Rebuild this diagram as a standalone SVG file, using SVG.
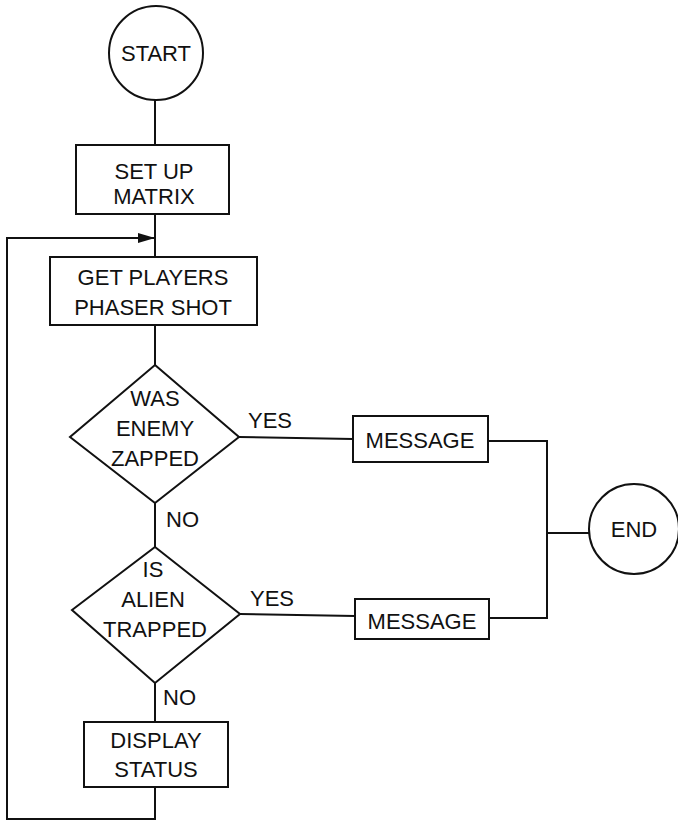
<svg xmlns="http://www.w3.org/2000/svg" width="678" height="822" viewBox="0 0 678 822">
<defs>
<style>
.s{fill:#fff;stroke:#111;stroke-width:2}
.c{fill:none;stroke:#111;stroke-width:2}
text{font-family:"Liberation Sans",Arial,sans-serif;font-size:22px;fill:#111;text-anchor:middle}
.l{text-anchor:start}
</style>
<marker id="ah" markerWidth="18" markerHeight="12" refX="17" refY="6" orient="auto" markerUnits="userSpaceOnUse">
<path d="M0,1 L17,6 L0,11 Z" fill="#111"/>
</marker>
</defs>
<rect width="678" height="822" fill="#fff"/>
<g id="connectors">
<line class="c" x1="155" y1="100" x2="155" y2="145"/>
<line class="c" x1="155" y1="214" x2="155" y2="257"/>
<polyline class="c" points="155,787 155,819 7,819 7,238 155,238" marker-end="url(#ah)"/>
<line class="c" x1="155" y1="325" x2="155" y2="365"/>
<line class="c" x1="155" y1="503" x2="155" y2="547"/>
<line class="c" x1="155" y1="683" x2="155" y2="722"/>
<line class="c" x1="239" y1="437" x2="353" y2="439"/>
<line class="c" x1="240" y1="614" x2="355" y2="616"/>
<polyline class="c" points="488,441 547,441 547,618 489,618"/>
<line class="c" x1="547" y1="533" x2="591" y2="533"/>
<text class="l" x="248" y="428">YES</text>
<text class="l" x="166" y="527">NO</text>
<text class="l" x="250" y="606">YES</text>
<text class="l" x="163" y="705">NO</text>
</g>
<g id="start">
<circle class="s" cx="156" cy="53" r="47"/>
<text x="156" y="61">START</text>
</g>
<g id="setup">
<rect class="s" x="76" y="145" width="153" height="69"/>
<text x="154" y="179">SET UP</text>
<text x="154" y="204">MATRIX</text>
</g>
<g id="getshot">
<rect class="s" x="50" y="257" width="207" height="68"/>
<text x="153" y="285">GET PLAYERS</text>
<text x="153" y="315">PHASER SHOT</text>
</g>
<g id="zapped">
<polygon class="s" points="155,365 239,437 155,503 70,437"/>
<text x="155" y="406">WAS</text>
<text x="155" y="436">ENEMY</text>
<text x="155" y="466">ZAPPED</text>
</g>
<g id="trapped">
<polygon class="s" points="155,547 240,614 155,683 72,610"/>
<text x="153" y="577">IS</text>
<text x="153" y="607">ALIEN</text>
<text x="155" y="637">TRAPPED</text>
</g>
<g id="display">
<rect class="s" x="84" y="722" width="144" height="65"/>
<text x="156" y="748">DISPLAY</text>
<text x="156" y="777">STATUS</text>
</g>
<g id="message1">
<rect class="s" x="353" y="416" width="135" height="46"/>
<text x="420" y="448">MESSAGE</text>
</g>
<g id="message2">
<rect class="s" x="355" y="599" width="134" height="40"/>
<text x="422" y="629">MESSAGE</text>
</g>
<g id="end">
<circle class="s" cx="634" cy="529" r="45"/>
<text x="634" y="537">END</text>
</g>
</svg>
